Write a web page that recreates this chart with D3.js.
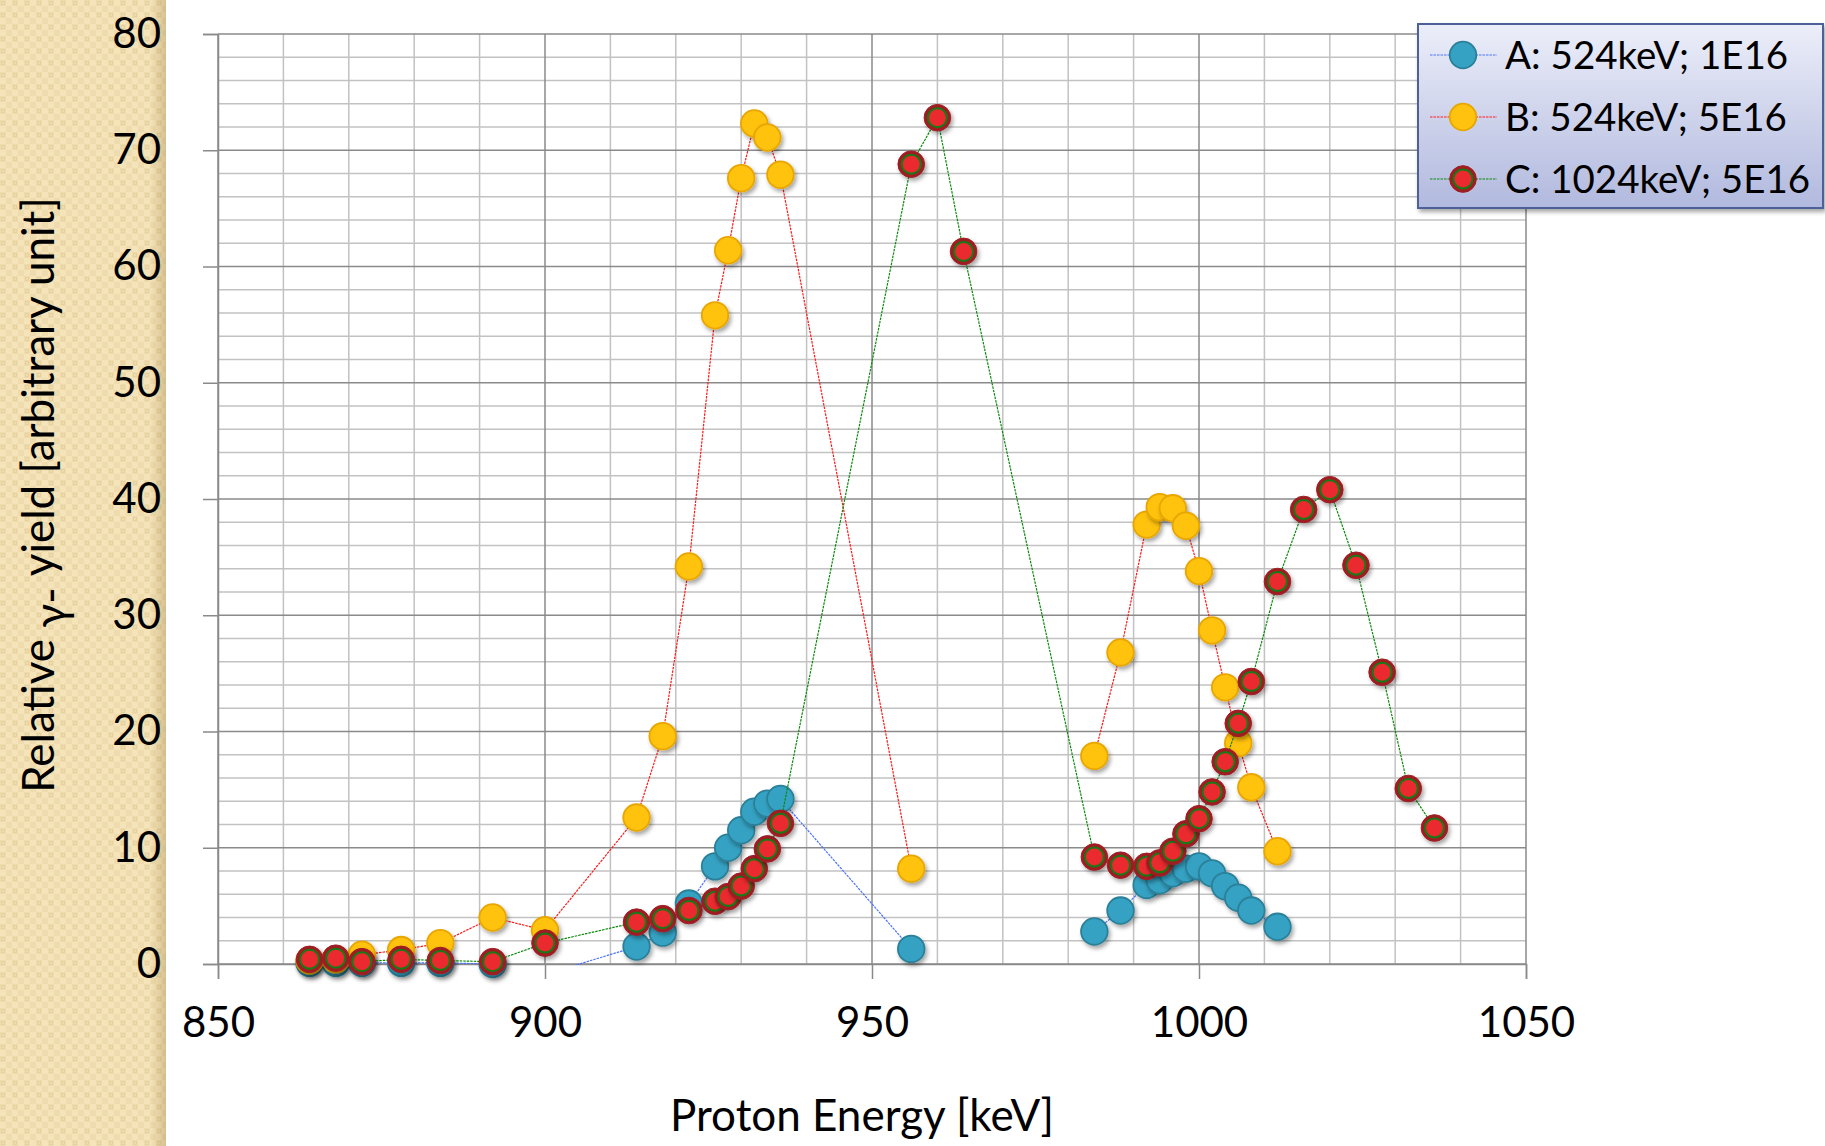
<!DOCTYPE html>
<html>
<head>
<meta charset="utf-8">
<script src="https://cdn.jsdelivr.net/npm/d3@7"></script>
<style>
  html, body { margin: 0; padding: 0; background: #fff; }
  svg { display: block; font-family: Lato, "Open Sans", sans-serif; }
</style>
</head>
<body>
<svg id="chart"></svg>
<script>
// proton energies (keV), shared by all three series; null = no measurement
const energy = [864, 868, 872, 878, 884, 892, 900, 914, 918, 922, 926, 928, 930, 932, 934, 936,
  956, 960, 964, 984, 988, 992, 994, 996, 998, 1000, 1002, 1004, 1006, 1008, 1012,
  1016, 1020, 1024, 1028, 1032, 1036];

const yieldA = [0.1, 0.1, 0.1, 0.1, 0.1, 0.0, -0.9, 1.5, 2.7, 5.2, 8.4, 10.0, 11.5, 13.1, 13.8, 14.2,
  1.3, null, null, 2.8, 4.6, 6.8, 7.2, 7.8, 8.2, 8.4, 7.8, 6.7, 5.7, 4.6, 3.2,
  null, null, null, null, null, null];

const yieldB = [0.3, 0.4, 0.8, 1.2, 1.8, 4.0, 2.9, 12.6, 19.6, 34.2, 55.8, 61.4, 67.6, 72.3, 71.1, 67.9,
  8.2, null, null, 17.9, 26.8, 37.8, 39.3, 39.2, 37.7, 33.8, 28.7, 23.8, 19.0, 15.2, 9.7,
  null, null, null, null, null, null];

const yieldC = [0.4, 0.5, 0.2, 0.4, 0.3, 0.2, 1.8, 3.6, 3.9, 4.6, 5.4, 5.8, 6.7, 8.2, 9.9, 12.1,
  68.8, 72.8, 61.3, 9.2, 8.5, 8.4, 8.7, 9.7, 11.2, 12.5, 14.8, 17.4, 20.7, 24.3, 32.9,
  39.1, 40.8, 34.3, 25.1, 15.1, 11.7];

const seriesNames = ["A: 524keV; 1E16", "B: 524keV; 5E16", "C: 1024keV; 5E16"];
const xTicks = [850, 900, 950, 1000, 1050];
const yTicks = [0, 10, 20, 30, 40, 50, 60, 70, 80];

const W = 1825, H = 1146;
const plotL = 218, plotR = 1526, plotT = 34, plotB = 964;

const svg = d3.select("#chart").attr("width", W).attr("height", H);
const defs = svg.append("defs");

// beige textured strip on the left
const pat = defs.append("pattern").attr("id", "beige")
  .attr("width", 12).attr("height", 12).attr("patternUnits", "userSpaceOnUse");
pat.append("rect").attr("width", 12).attr("height", 12).attr("fill", "#f5e4ba");
pat.append("rect").attr("x", 0).attr("y", 0).attr("width", 6).attr("height", 6).attr("fill", "#eedcae");
pat.append("rect").attr("x", 6).attr("y", 6).attr("width", 6).attr("height", 6).attr("fill", "#eedcae");
pat.append("rect").attr("x", 1.5).attr("y", 1.5).attr("width", 3).attr("height", 3)
  .attr("fill", "none").attr("stroke", "#e4cf9c").attr("stroke-width", 0.8);

const edge = defs.append("linearGradient").attr("id", "edge");
edge.append("stop").attr("offset", "0").attr("stop-color", "#a08040").attr("stop-opacity", 0);
edge.append("stop").attr("offset", "1").attr("stop-color", "#a08040").attr("stop-opacity", 0.35);

const legGrad = defs.append("linearGradient").attr("id", "legGrad")
  .attr("x1", 0).attr("y1", 0).attr("x2", 0).attr("y2", 1);
legGrad.append("stop").attr("offset", "0").attr("stop-color", "#eceef9");
legGrad.append("stop").attr("offset", "1").attr("stop-color", "#b1b9de");

const shadow = defs.append("filter").attr("id", "shadow")
  .attr("x", "-50%").attr("y", "-50%").attr("width", "200%").attr("height", "200%");
shadow.append("feDropShadow").attr("dx", 2).attr("dy", 3).attr("stdDeviation", 2)
  .attr("flood-color", "#000").attr("flood-opacity", 0.35);

defs.append("clipPath").attr("id", "plotClip")
  .append("rect").attr("x", plotL).attr("y", plotT).attr("width", plotR - plotL).attr("height", plotB - plotT + 1);

svg.append("rect").attr("x", 0).attr("y", 0).attr("width", 166).attr("height", H).attr("fill", "url(#beige)");
svg.append("rect").attr("x", 150).attr("y", 0).attr("width", 16).attr("height", H).attr("fill", "url(#edge)");

// scales
const x = d3.scaleLinear().domain([850, 1050]).range([plotL, plotR]);
const y = d3.scaleLinear().domain([0, 80]).range([plotB, plotT]);

// grid: minor every 10 keV / 2 units, major every 50 keV / 10 units
const grid = svg.append("g");
grid.selectAll(".vminor").data(d3.range(860, 1050, 10).filter(v => v % 50 !== 0)).join("line")
  .attr("x1", d => x(d)).attr("x2", d => x(d)).attr("y1", plotT).attr("y2", plotB)
  .attr("stroke", "#c2c2c2").attr("stroke-width", 1.5);
grid.selectAll(".hminor").data(d3.range(2, 80, 2).filter(v => v % 10 !== 0)).join("line")
  .attr("x1", plotL).attr("x2", plotR).attr("y1", d => y(d)).attr("y2", d => y(d))
  .attr("stroke", "#c2c2c2").attr("stroke-width", 1.5);
grid.selectAll(".vmajor").data(xTicks).join("line")
  .attr("x1", d => x(d)).attr("x2", d => x(d)).attr("y1", plotT).attr("y2", plotB)
  .attr("stroke", "#8a8a8a").attr("stroke-width", 1.5);
grid.selectAll(".hmajor").data(yTicks).join("line")
  .attr("x1", plotL).attr("x2", plotR).attr("y1", d => y(d)).attr("y2", d => y(d))
  .attr("stroke", "#8a8a8a").attr("stroke-width", 1.5);

// axes
const xAxis = svg.append("g").attr("transform", `translate(0,${plotB})`)
  .call(d3.axisBottom(x).tickValues(xTicks).tickFormat(d3.format("d")).tickSize(15).tickPadding(28));
const yAxis = svg.append("g").attr("transform", `translate(${plotL},0)`)
  .call(d3.axisLeft(y).tickValues(yTicks).tickFormat(d3.format("d")).tickSize(15).tickPadding(42));
[xAxis, yAxis].forEach(a => {
  a.select(".domain").attr("stroke", "#8a8a8a").attr("stroke-width", 1.5);
  a.selectAll(".tick line").attr("stroke", "#8a8a8a").attr("stroke-width", 1.5);
  a.selectAll(".tick text").attr("fill", "#000").style("font-size", "42px")
    .style("font-family", "Lato, sans-serif");
});

// series
const series = [
  { name: seriesNames[0], values: yieldA, line: "#4a72ff", fill: "#36a2c3", stroke: "#2b8099" },
  { name: seriesNames[1], values: yieldB, line: "#ff1a1a", fill: "#ffc20e", stroke: "#e8a600" },
  { name: seriesNames[2], values: yieldC, line: "#0a8a0a", fill: "#ea2a2e", stroke: "#9e1e22", ring: "#157a15" }
];

function drawMarker(g, s) {
  g.append("circle").attr("r", 13.3).attr("fill", s.ring ? s.stroke : s.fill)
    .attr("stroke", s.stroke).attr("stroke-width", s.ring ? 1 : 1.8);
  if (s.ring) {
    g.append("circle").attr("r", 9.5).attr("fill", s.fill)
      .attr("stroke", s.ring).attr("stroke-width", 2);
  }
}

const line = d3.line().defined(d => d[1] !== null).x(d => x(d[0])).y(d => y(d[1]));

series.forEach(s => {
  const pts = energy.map((e, i) => [e, s.values[i]]);
  const g = svg.append("g");
  g.append("path").datum(pts).attr("d", line)
    .attr("clip-path", "url(#plotClip)")
    .attr("fill", "none").attr("stroke", s.line).attr("stroke-width", 1.2)
    .attr("stroke-dasharray", "2.5,1");
  g.selectAll(".m").data(pts.filter(d => d[1] !== null && d[1] >= 0)).join("g")
    .attr("transform", d => `translate(${x(d[0])},${y(d[1])})`)
    .attr("filter", "url(#shadow)")
    .each(function() { drawMarker(d3.select(this), s); });
});

// axis titles
svg.append("text").attr("x", 862).attr("y", 1131).attr("text-anchor", "middle")
  .style("font-size", "44px").text("Proton Energy [keV]");

const yt = svg.append("text").attr("transform", "translate(54,495) rotate(-90)")
  .attr("text-anchor", "middle").style("font-size", "44px");
yt.append("tspan").text("Relative ");
yt.append("tspan").attr("dy", 12).text("γ-");
yt.append("tspan").attr("dy", -12).text(" yield [arbitrary unit]");

// legend
const leg = svg.append("g").attr("transform", "translate(1418,24)");
leg.append("rect").attr("width", 405).attr("height", 184)
  .attr("fill", "url(#legGrad)").attr("stroke", "#4d6199").attr("stroke-width", 2)
  .attr("filter", "url(#shadow)");
series.forEach((s, i) => {
  const row = leg.append("g").attr("transform", `translate(0,${31 + i * 62})`);
  row.append("line").attr("x1", 12).attr("x2", 79).attr("stroke", s.line)
    .attr("stroke-width", 1.2).attr("stroke-dasharray", "2.5,1");
  const m = row.append("g").attr("transform", "translate(45,0)");
  drawMarker(m, s);
  row.append("text").attr("x", 87).attr("y", 14).style("font-size", "38.5px").text(s.name);
});
</script>
</body>
</html>
